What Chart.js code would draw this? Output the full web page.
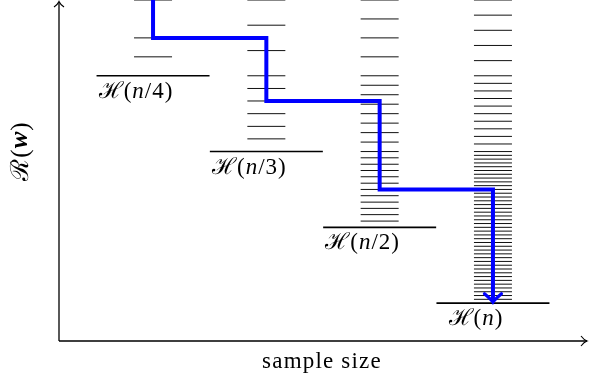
<!DOCTYPE html>
<html>
<head>
<meta charset="utf-8">
<script src="https://cdn.jsdelivr.net/npm/chart.js@4.4.0/dist/chart.umd.min.js"></script>
<style>
  html, body { margin: 0; padding: 0; background: #fff; }
  #wrap { width: 589px; height: 381px; }
</style>
</head>
<body>
<div id="wrap"><canvas id="riskChart"></canvas></div>
<script>
// sample sizes (position on the x axis) and their labels
const sampleSizes = [1, 2, 3, 4];
const sizeLabels = ['n/4', 'n/3', 'n/2', 'n'];

// lowest risk reachable in each hypothesis class
const floorRisk = [14, 10, 6, 2];

// risk of the hypotheses inside each class
const levelsQuarter = [18, 16, 15];
const levelsThird = [18, 16.67, 15.33, 14, 13.33, 12.67, 12, 11.33, 10.67];
const levelsHalf = [18, 17, 16, 15, 14, 13.5, 13, 12.5, 12, 11.5, 11, 10.5, 10,
    9.67, 9.33, 9, 8.67, 8.33, 8, 7.67, 7.33, 7, 6.67, 6.33];
const levelsFull = [18, 17.2, 16.4, 15.6, 14.8, 14, 13.6, 13.2, 12.8, 12.4, 12, 11.6, 11.2, 10.8, 10.4,
    10, 9.8, 9.6, 9.4, 9.2, 9, 8.8, 8.6, 8.4, 8.2, 8, 7.8, 7.6, 7.4, 7.2, 7, 6.8, 6.6, 6.4, 6.2,
    6, 5.8, 5.6, 5.4, 5.2, 5, 4.8, 4.6, 4.4, 4.2, 4, 3.8, 3.6, 3.4, 3.2, 3, 2.8, 2.6, 2.4, 2.2];
const classLevels = [levelsQuarter, levelsThird, levelsHalf, levelsFull];

// risk of the chosen hypothesis as the sample grows
const pathStart = 18.6;
const pathRisk = [16, 12.67, 8, 2.1];

const serif = "'Liberation Serif', 'DejaVu Serif', serif";

// blue staircase points
const pathPoints = [{ x: sampleSizes[0], y: pathStart }];
pathRisk.forEach((r, i) => {
    if (i > 0) pathPoints.push({ x: sampleSizes[i], y: pathRisk[i - 1] });
    pathPoints.push({ x: sampleSizes[i], y: r });
});

const datasets = [{
    type: 'line',
    data: pathPoints,
    borderColor: '#0000ff',
    borderWidth: 4,
    pointRadius: 0,
    fill: false,
    tension: 0,
    borderJoinStyle: 'miter'
}];

classLevels.forEach((levels, i) => {
    datasets.push({
        type: 'scatter',
        data: levels.map(v => ({ x: sampleSizes[i], y: v })),
        pointStyle: 'line',
        pointRadius: 19,
        pointBorderWidth: 1,
        pointBorderColor: '#111',
        backgroundColor: '#111'
    });
});

datasets.push({
    type: 'scatter',
    data: floorRisk.map((v, i) => ({ x: sampleSizes[i], y: v })),
    pointStyle: 'line',
    pointRadius: 56.5,
    pointBorderWidth: 1.6,
    pointBorderColor: '#000',
    backgroundColor: '#000'
});

// draw text made of upright / italic / bold pieces, centred at cx, cy
function drawPieces(ctx, pieces, cx, cy, size, spacing) {
    ctx.letterSpacing = (spacing || 0) + 'px';
    const fonts = pieces.map(p => (p.s || '') + ' ' + size + 'px ' + serif);
    let total = 0;
    const widths = pieces.map((p, i) => {
        ctx.font = fonts[i];
        const w = ctx.measureText(p.t).width;
        total += w;
        return w;
    });
    let x = cx - total / 2;
    ctx.textBaseline = 'middle';
    ctx.textAlign = 'left';
    pieces.forEach((p, i) => {
        ctx.font = fonts[i];
        ctx.fillText(p.t, x, cy);
        x += widths[i];
    });
    ctx.letterSpacing = '0px';
}

function sizePieces(label) {
    const rest = label.slice(1);
    return [{ t: '\u210B(' }, { t: 'n', s: 'italic' }, { t: rest + ')' }];
}

const decorations = {
    id: 'decorations',
    afterDatasetsDraw(chart) {
        const ctx = chart.ctx;
        const area = chart.chartArea;
        const xs = chart.scales.x;
        const ys = chart.scales.y;
        ctx.save();

        // arrow head at the end of the blue path
        const last = pathPoints[pathPoints.length - 1];
        const ax = xs.getPixelForValue(last.x);
        const ay = ys.getPixelForValue(last.y);
        ctx.strokeStyle = '#0000ff';
        ctx.lineWidth = 3.2;
        ctx.lineCap = 'round';
        ctx.beginPath();
        ctx.moveTo(ax - 8.5, ay - 7.5);
        ctx.quadraticCurveTo(ax - 2, ay - 2, ax, ay + 1);
        ctx.quadraticCurveTo(ax + 2, ay - 2, ax + 8.5, ay - 7.5);
        ctx.stroke();

        // axes with arrows
        const ox = area.left, oy = area.bottom;
        ctx.strokeStyle = '#000';
        ctx.lineWidth = 1.3;
        ctx.lineCap = 'butt';
        ctx.beginPath();
        ctx.moveTo(ox, oy);
        ctx.lineTo(ox, area.top + 2);
        ctx.moveTo(ox, oy);
        ctx.lineTo(area.right, oy);
        ctx.stroke();
        ctx.lineWidth = 1.1;
        ctx.beginPath();
        ctx.moveTo(ox - 5, area.top + 7);
        ctx.quadraticCurveTo(ox - 1, area.top + 4, ox, area.top + 1.5);
        ctx.quadraticCurveTo(ox + 1, area.top + 4, ox + 5, area.top + 7);
        ctx.moveTo(area.right - 6, oy - 5);
        ctx.quadraticCurveTo(area.right - 3, oy - 1, area.right, oy);
        ctx.quadraticCurveTo(area.right - 3, oy + 1, area.right - 6, oy + 5);
        ctx.stroke();

        // class labels under each floor line
        ctx.fillStyle = '#000';
        sizeLabels.forEach((lab, i) => {
            const cx = xs.getPixelForValue(sampleSizes[i]) - 17;
            const cy = ys.getPixelForValue(floorRisk[i]) + 16;
            drawPieces(ctx, sizePieces(lab), cx, cy, 23, 1);
        });

        // axis titles
        ctx.font = '23px ' + serif;
        ctx.letterSpacing = '1.2px';
        ctx.textAlign = 'center';
        ctx.textBaseline = 'middle';
        ctx.fillText('sample size', (ox + area.right) / 2 - 1, 362);
        ctx.letterSpacing = '0px';

        ctx.translate(21, 151);
        ctx.rotate(-Math.PI / 2);
        drawPieces(ctx, [{ t: '\u211B(' }, { t: 'w', s: 'italic bold' }, { t: ')' }], 0, 0, 25, 1);
        ctx.restore();
    }
};

new Chart(document.getElementById('riskChart'), {
    type: 'scatter',
    data: { datasets: datasets },
    options: {
        responsive: true,
        maintainAspectRatio: false,
        animation: false,
        events: [],
        layout: { autoPadding: false, padding: { left: 59, right: 2, top: 0, bottom: 40 } },
        plugins: {
            legend: { display: false },
            tooltip: { enabled: false }
        },
        scales: {
            x: { type: 'linear', min: 0.17, max: 4.83, display: false },
            y: { type: 'linear', min: 0, max: 18, display: false }
        }
    },
    plugins: [decorations]
});
</script>
</body>
</html>
